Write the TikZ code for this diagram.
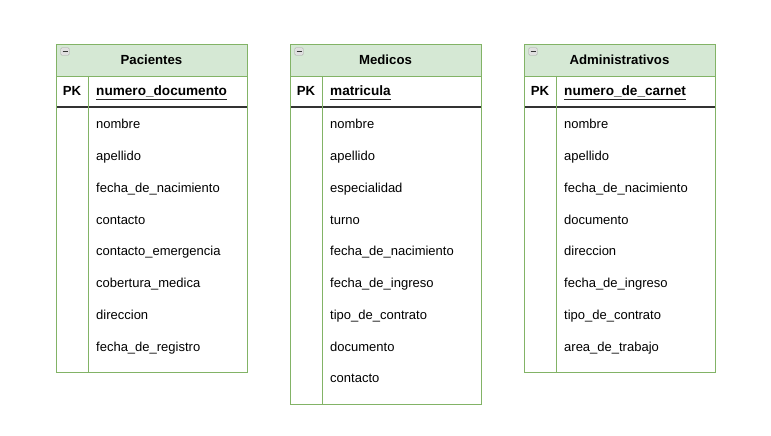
\documentclass[tikz,border=0pt]{standalone}
\usepackage{fontspec}
\setmainfont{Liberation Sans}
\usetikzlibrary{positioning}
\definecolor{hdrgreen}{HTML}{D5E8D4}
\definecolor{edgegreen}{HTML}{82B366}

\begin{document}
\begin{tikzpicture}[x=1pt,y=-1pt,
    field/.style={anchor=west,inner sep=0pt,text height=11.4pt,text depth=1.6pt,font=\fontsize{13}{15}\selectfont},
    key/.style={field,text height=12.8pt,text depth=3pt,font=\fontsize{13.6}{15}\selectfont\bfseries},
    title/.style={inner sep=0pt,text height=11.4pt,text depth=1.6pt,font=\fontsize{13.2}{15}\selectfont\bfseries},
    frame/.style={draw=edgegreen,line width=0.9pt},
    keyline/.style={black!85,line width=0.9pt},
    icon/.style={draw=gray!70,fill=gray!25,rounded corners=1.2pt,minimum width=8.5pt,minimum height=7.5pt,inner sep=0pt}]

    \useasboundingbox (0,0) rectangle (771,436);

    % Pacientes
    \fill[hdrgreen] (56,44) rectangle (247,76);
    \draw[frame] (56,76) -- (247,76);
    \draw[black!80,line width=1.1pt] (56,107) -- (247,107);
    \draw[frame] (88,76) -- (88,372);
    \draw[frame] (56,44) rectangle (247,372);
    \node[icon] (pacIcon) at (65,51.5) {};
    \draw[black!80,line width=1pt] ([xshift=-2.5pt]pacIcon.center) -- ([xshift=2.5pt]pacIcon.center);
    \node[title] (pac) at (151.5,60) {Pacientes};
    \node[title] (pacPK) at (72,91) {PK};
    \node[key] (pac0) at (96,91) {numero\_documento};
    \draw[keyline] (pac0.south west) -- (pac0.south east);
    \node[field] (pac1) at (96,124) {nombre};
    \node[field] (pac2) at (96,155.75) {apellido};
    \node[field] (pac3) at (96,187.5) {fecha\_de\_nacimiento};
    \node[field] (pac4) at (96,219.25) {contacto};
    \node[field] (pac5) at (96,251) {contacto\_emergencia};
    \node[field] (pac6) at (96,282.75) {cobertura\_medica};
    \node[field] (pac7) at (96,314.5) {direccion};
    \node[field] (pac8) at (96,346.25) {fecha\_de\_registro};

    % Medicos
    \fill[hdrgreen] (290,44) rectangle (481,76);
    \draw[frame] (290,76) -- (481,76);
    \draw[black!80,line width=1.1pt] (290,107) -- (481,107);
    \draw[frame] (322,76) -- (322,404);
    \draw[frame] (290,44) rectangle (481,404);
    \node[icon] (medIcon) at (299,51.5) {};
    \draw[black!80,line width=1pt] ([xshift=-2.5pt]medIcon.center) -- ([xshift=2.5pt]medIcon.center);
    \node[title] (med) at (385.5,60) {Medicos};
    \node[title] (medPK) at (306,91) {PK};
    \node[key] (med0) at (330,91) {matricula};
    \draw[keyline] (med0.south west) -- (med0.south east);
    \node[field] (med1) at (330,124) {nombre};
    \node[field] (med2) at (330,155.75) {apellido};
    \node[field] (med3) at (330,187.5) {especialidad};
    \node[field] (med4) at (330,219.25) {turno};
    \node[field] (med5) at (330,251) {fecha\_de\_nacimiento};
    \node[field] (med6) at (330,282.75) {fecha\_de\_ingreso};
    \node[field] (med7) at (330,314.5) {tipo\_de\_contrato};
    \node[field] (med8) at (330,346.25) {documento};
    \node[field] (med9) at (330,378) {contacto};

    % Administrativos
    \fill[hdrgreen] (524,44) rectangle (715,76);
    \draw[frame] (524,76) -- (715,76);
    \draw[black!80,line width=1.1pt] (524,107) -- (715,107);
    \draw[frame] (556,76) -- (556,372);
    \draw[frame] (524,44) rectangle (715,372);
    \node[icon] (admIcon) at (533,51.5) {};
    \draw[black!80,line width=1pt] ([xshift=-2.5pt]admIcon.center) -- ([xshift=2.5pt]admIcon.center);
    \node[title] (adm) at (619.5,60) {Administrativos};
    \node[title] (admPK) at (540,91) {PK};
    \node[key] (adm0) at (564,91) {numero\_de\_carnet};
    \draw[keyline] (adm0.south west) -- (adm0.south east);
    \node[field] (adm1) at (564,124) {nombre};
    \node[field] (adm2) at (564,155.75) {apellido};
    \node[field] (adm3) at (564,187.5) {fecha\_de\_nacimiento};
    \node[field] (adm4) at (564,219.25) {documento};
    \node[field] (adm5) at (564,251) {direccion};
    \node[field] (adm6) at (564,282.75) {fecha\_de\_ingreso};
    \node[field] (adm7) at (564,314.5) {tipo\_de\_contrato};
    \node[field] (adm8) at (564,346.25) {area\_de\_trabajo};
\end{tikzpicture}
\end{document}
